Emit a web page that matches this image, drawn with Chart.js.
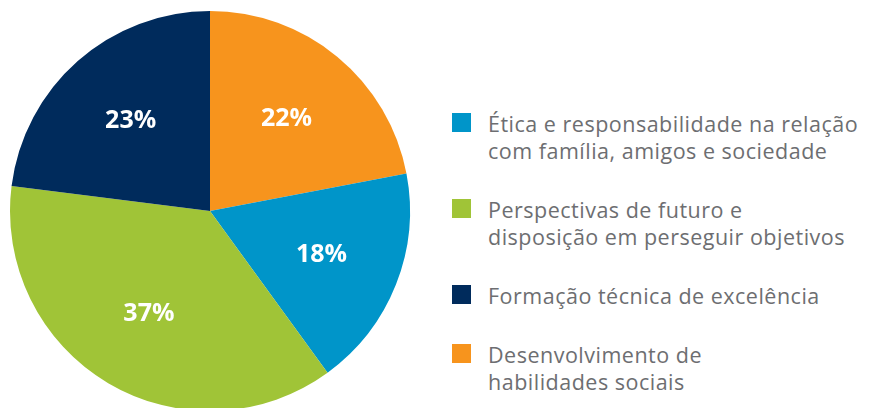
<!DOCTYPE html>
<html lang="pt">
<head>
<meta charset="utf-8">
<script src="https://cdn.jsdelivr.net/npm/chart.js@4.4.1/dist/chart.umd.min.js"></script>
<style>
  html, body { margin: 0; padding: 0; background: #fff; }
  body { width: 877px; height: 408px; overflow: hidden; position: relative; }
  #grafico { position: absolute; left: 0; top: 0; }
  #legenda { position: absolute; left: 452px; top: 110px; margin: 0; padding: 0; list-style: none;
    font-family: "Open Sans", sans-serif; font-size: 21.5px; letter-spacing: 0.5px; line-height: 27px; color: #6d6e71; }
  #legenda li { position: relative; padding-left: 36px; margin-bottom: 32px; white-space: nowrap; }
  #legenda li span.cor { position: absolute; left: 0; top: 3px; width: 19px; height: 19px; }
</style>
</head>
<body>
<canvas id="grafico" width="420" height="422"></canvas>
<ul id="legenda"></ul>
<script>
// categorias na ordem da pizza (comeca no topo, sentido horario)
const categorias = [
  ['Desenvolvimento de', 'habilidades sociais'],
  ['Ética e responsabilidade na relação', 'com família, amigos e sociedade'],
  ['Perspectivas de futuro e', 'disposição em perseguir objetivos'],
  ['Formação técnica de excelência']
];
const valores = [22, 18, 37, 23];
const cores = ['#f7941d', '#0095c9', '#a0c437', '#002b5c'];
// ordem em que aparecem na legenda
const ordemLegenda = [1, 2, 3, 0];

// legenda em html
const legenda = document.getElementById('legenda');
ordemLegenda.forEach(i => {
  const li = document.createElement('li');
  const cor = document.createElement('span');
  cor.className = 'cor';
  cor.style.background = cores[i];
  li.appendChild(cor);
  li.appendChild(document.createTextNode(categorias[i][0]));
  for (let k = 1; k < categorias[i].length; k++) {
    li.appendChild(document.createElement('br'));
    li.appendChild(document.createTextNode(categorias[i][k]));
  }
  legenda.appendChild(li);
});

// rotulos de porcentagem dentro das fatias
const rotulos = {
  id: 'rotulos',
  afterDatasetsDraw(chart) {
    const ctx = chart.ctx;
    const meta = chart.getDatasetMeta(0);
    ctx.save();
    ctx.fillStyle = '#fff';
    ctx.font = 'bold 25px "Open Sans", sans-serif';
    ctx.textAlign = 'center';
    ctx.textBaseline = 'middle';
    meta.data.forEach((arc, i) => {
      const p = arc.getProps(['x', 'y', 'startAngle', 'endAngle', 'outerRadius'], true);
      const meio = (p.startAngle + p.endAngle) / 2;
      const r = p.outerRadius * 0.6;
      ctx.fillText(valores[i] + '%', p.x + Math.cos(meio) * r, p.y + Math.sin(meio) * r);
    });
    ctx.restore();
  }
};

new Chart(document.getElementById('grafico'), {
  type: 'pie',
  data: {
    labels: categorias,
    datasets: [{
      data: valores,
      backgroundColor: cores,
      borderWidth: 0
    }]
  },
  options: {
    responsive: false,
    animation: false,
    layout: { padding: 10 },
    plugins: {
      legend: { display: false },
      tooltip: { enabled: false }
    }
  },
  plugins: [rotulos]
});
</script>
</body>
</html>
